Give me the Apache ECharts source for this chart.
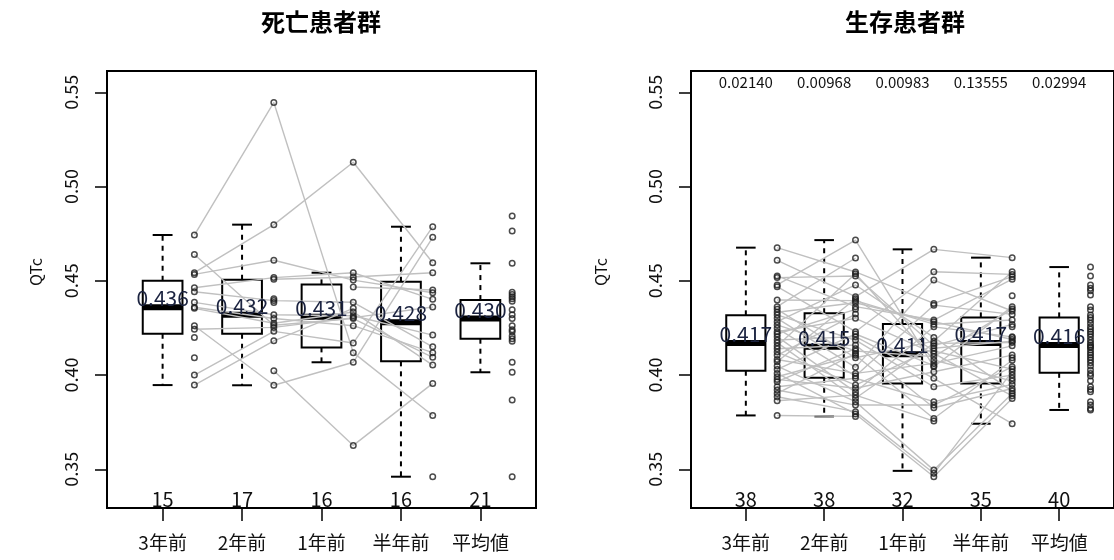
<!DOCTYPE html>
<html>
<head>
<meta charset="utf-8">
<script src="https://cdn.jsdelivr.net/npm/echarts@6/dist/echarts.min.js"></script>
<style>
  html, body { margin: 0; padding: 0; background: #fff; }
  #chart { width: 1114px; height: 560px; }
</style>
</head>
<body>
<div id="chart"></div>
<script>
// ---- time points ----
const categories = ['3年前', '2年前', '1年前', '半年前', '平均値'];
const yTicks = [0.35, 0.40, 0.45, 0.50, 0.55];

// ---- 死亡患者群: QTc per patient at each time point (null = not measured) ----
const deadY3   = [0.4743, 0.4640, 0.4543, 0.4534, 0.4463, 0.4442, 0.4386, 0.4360, 0.4354, 0.4262, 0.4243, 0.4200, 0.4092, 0.4000, 0.3947, null, null, null, null, null, null];
const deadY2   = [0.5446, 0.4264, 0.4798, 0.4609, 0.4517, 0.4395, 0.4320, 0.4300, 0.4275, 0.3946, 0.4253, null, null, 0.4232, 0.4182, 0.4508, 0.4023, 0.4405, 0.4385, null, null];
const deadY1   = [0.4119, 0.4300, 0.5129, 0.4504, 0.4543, 0.4386, 0.4315, 0.4262, 0.4335, 0.4068, 0.4305, 0.4467, null, 0.4170, 0.4354, 0.4520, 0.3627, null, null, null, null];
const deadHalf = [0.3786, 0.4094, 0.4596, 0.4437, 0.4402, 0.4150, 0.4212, 0.4119, 0.4053, 0.4731, 0.4361, 0.4451, 0.3461, 0.4787, null, 0.4543, 0.3956, null, null, null, null];
const deadMean = [0.4844, 0.4764, 0.4593, 0.4440, 0.4428, 0.4415, 0.4405, 0.4392, 0.4346, 0.4320, 0.4300, 0.4262, 0.4240, 0.4230, 0.4207, 0.4193, 0.4179, 0.4068, 0.4015, 0.3868, 0.3461];

// box statistics (lower whisker, Q1, median, Q3, upper whisker)
const deadLow    = [0.3947, 0.3946, 0.4068, 0.3461, 0.4015];
const deadQ1     = [0.4219, 0.4219, 0.4147, 0.4073, 0.4193];
const deadMedian = [0.436, 0.432, 0.431, 0.428, 0.430];
const deadQ3     = [0.4501, 0.4506, 0.4481, 0.4495, 0.4398];
const deadHigh   = [0.4743, 0.4798, 0.4543, 0.4787, 0.4593];
const deadCounts = [15, 17, 16, 16, 21];

// ---- 生存患者群 ----
const aliveY3   = [0.4676, 0.4609, 0.4526, 0.4517, 0.4478, 0.4469, 0.4398, 0.4363, 0.4349, 0.4333, 0.4319, 0.4301, 0.4283, 0.4266, 0.4248, 0.4230, 0.4218, 0.4204, 0.4186, 0.4172, 0.4154, 0.4140, 0.4122, 0.4105, 0.4083, 0.4071, 0.4048, 0.4030, 0.4009, 0.3991, 0.3977, 0.3965, 0.3938, 0.3921, 0.3903, 0.3885, 0.3864, 0.3786, null, null];
const aliveY2   = [0.4547, 0.4416, 0.4363, 0.4526, 0.4716, 0.4230, 0.4395, 0.4621, 0.4092, 0.4384, 0.4185, 0.4041, 0.4478, 0.4128, 0.3995, 0.4301, 0.4349, 0.3910, 0.4204, 0.3877, 0.4538, 0.4160, 0.3947, 0.4324, 0.4009, 0.4405, 0.3859, 0.4218, 0.3794, 0.4105, 0.3930, 0.4140, 0.3983, 0.3841, 0.4115, 0.3806, 0.3894, 0.3781, null, null];
const aliveY1   = [0.4380, 0.4667, 0.4292, 0.4156, 0.4044, 0.4548, 0.4270, null, 0.4180, 0.4283, 0.3938, 0.4504, 0.4200, 0.4098, 0.4371, 0.4115, null, 0.4256, 0.3983, 0.4168, 0.4080, 0.3827, 0.4142, null, 0.4062, 0.4128, 0.3496, 0.4050, 0.3461, 0.3770, 0.4018, null, 0.3859, 0.3841, null, 0.3479, 0.3756, null, null, null];
const aliveHalf = [0.4522, 0.4623, 0.4509, 0.4269, 0.4363, 0.4534, 0.4292, 0.4421, 0.4548, 0.4189, 0.4000, 0.4340, 0.3915, 0.4350, 0.4322, 0.3890, 0.4256, 0.4203, 0.3742, 0.4173, 0.3968, 0.3929, 0.4180, 0.4092, 0.4155, 0.4032, 0.3903, null, 0.3876, 0.4079, 0.4106, 0.4200, 0.3950, 0.4044, 0.3983, 0.4018, null, null, null, null];
const aliveMean = [0.4573, 0.4526, 0.4478, 0.4460, 0.4448, 0.4425, 0.4363, 0.4345, 0.4319, 0.4305, 0.4292, 0.4275, 0.4257, 0.4243, 0.4230, 0.4218, 0.4204, 0.4186, 0.4172, 0.4160, 0.4151, 0.4147, 0.4133, 0.4119, 0.4107, 0.4093, 0.4080, 0.4066, 0.4048, 0.4027, 0.4009, 0.3995, 0.3970, 0.3938, 0.3924, 0.3912, 0.3859, 0.3841, 0.3823, 0.3815];

const aliveLow    = [0.3786, 0.3781, 0.3492, 0.3742, 0.3815];
const aliveQ1     = [0.4023, 0.3986, 0.3956, 0.3956, 0.4012];
const aliveMedian = [0.417, 0.415, 0.411, 0.417, 0.416];
const aliveQ3     = [0.4317, 0.4328, 0.4271, 0.4306, 0.4306];
const aliveHigh   = [0.4676, 0.4716, 0.4667, 0.4623, 0.4573];
const aliveCounts = [38, 38, 32, 35, 40];
const alivePValues = ['0.02140', '0.00968', '0.00983', '0.13555', '0.02994'];

// ---- layout / style constants ----
const FONT = '"Noto Sans CJK JP", "Noto Sans", sans-serif';
const Y_MIN = 0.3295, Y_MAX = 0.5613;
const X_MIN = 0.3, X_MAX = 5.7;
const PT_OFFSET = 0.4;     // point strip sits to the right of each box
const BOX_HALF = 0.25;
const CAP_HALF = 0.125;
const LINE_GREY = '#c0c0c0';

function renderBox(params, api) {
  const x = api.value(0);
  const lo = api.value(1), q1 = api.value(2), md = api.value(3), q3 = api.value(4), hi = api.value(5);
  const c = (xx, yy) => api.coord([xx, yy]);
  const tl = c(x - BOX_HALF, q3), br = c(x + BOX_HALF, q1);
  const mid = c(x, md), top = c(x, hi), bot = c(x, lo);
  const capL = c(x - CAP_HALF, hi)[0], capR = c(x + CAP_HALF, hi)[0];
  const solid = { stroke: '#000', lineWidth: 2, fill: null };
  const dashed = { stroke: '#000', lineWidth: 2, lineDash: [5, 5], fill: null };
  return {
    type: 'group',
    children: [
      { type: 'line', shape: { x1: mid[0], y1: tl[1], x2: mid[0], y2: top[1] }, style: dashed },
      { type: 'line', shape: { x1: mid[0], y1: br[1], x2: mid[0], y2: bot[1] }, style: dashed },
      { type: 'line', shape: { x1: capL, y1: top[1], x2: capR, y2: top[1] }, style: solid },
      { type: 'line', shape: { x1: capL, y1: bot[1], x2: capR, y2: bot[1] }, style: solid },
      { type: 'rect', shape: { x: tl[0], y: tl[1], width: br[0] - tl[0], height: br[1] - tl[1] }, style: solid },
      { type: 'line', shape: { x1: tl[0], y1: mid[1], x2: br[0], y2: mid[1] }, style: { stroke: '#000', lineWidth: 6 } }
    ]
  };
}

function panelSeries(g, timeCols, meanCol, stats, counts, pLabels) {
  const out = [];
  out.push({
    type: 'custom', xAxisIndex: g, yAxisIndex: g, z: 2, silent: true, renderItem: renderBox,
    data: categories.map((_, i) => [i + 1, stats.low[i], stats.q1[i], stats.med[i], stats.q3[i], stats.high[i]])
  });
  const nPatients = timeCols[0].length;
  for (let p = 0; p < nPatients; p++) {
    out.push({
      type: 'line', xAxisIndex: g, yAxisIndex: g, z: 3, silent: true, symbol: 'none',
      connectNulls: false, clip: false,
      lineStyle: { color: LINE_GREY, width: 1.4 },
      data: timeCols.map((col, i) => [i + 1 + PT_OFFSET, col[p] == null ? '-' : col[p]])
    });
  }
  const pts = [];
  [...timeCols, meanCol].forEach((col, i) => col.forEach(v => { if (v != null) pts.push([i + 1 + PT_OFFSET, v]); }));
  out.push({
    type: 'scatter', xAxisIndex: g, yAxisIndex: g, z: 4, silent: true,
    symbol: 'circle', symbolSize: 5.5,
    itemStyle: { color: 'rgba(0,0,0,0)', borderColor: '#1e1e1e', borderWidth: 1.5 },
    data: pts
  });
  out.push({
    type: 'custom', xAxisIndex: g, yAxisIndex: g, z: 6, silent: true,
    data: categories.map((_, i) => [i + 1, stats.med[i]]),
    renderItem: (params, api) => {
      const i = params.dataIndex;
      const x = api.value(0), md = api.value(1);
      const m = api.coord([x, md]);
      const b = api.coord([x, Y_MIN]);
      const t = api.coord([x, Y_MAX]);
      const kids = [
        { type: 'text', x: m[0], y: m[1] - 9,
          style: { text: md.toFixed(3), align: 'center', verticalAlign: 'middle', font: '21px ' + FONT, fill: '#1b2340' } },
        { type: 'text', x: b[0], y: b[1] - 9,
          style: { text: String(counts[i]), align: 'center', verticalAlign: 'middle', font: '20px ' + FONT, fill: '#111' } }
      ];
      if (pLabels) {
        kids.push({ type: 'text', x: t[0], y: t[1] + 11,
          style: { text: pLabels[i], align: 'center', verticalAlign: 'middle', font: '15px ' + FONT, fill: '#111' } });
      }
      return { type: 'group', children: kids };
    }
  });
  return out;
}

function xAxisFor(g) {
  return {
    gridIndex: g, type: 'value', min: X_MIN, max: X_MAX,
    axisLine: { show: false }, splitLine: { show: false },
    axisTick: { show: true, customValues: [1, 2, 3, 4, 5], length: 13, lineStyle: { color: '#000', width: 1.5 } },
    axisLabel: { customValues: [1, 2, 3, 4, 5], formatter: v => categories[Math.round(v) - 1],
      margin: 25, fontSize: 19, color: '#111', fontFamily: FONT }
  };
}
function yAxisFor(g) {
  return {
    gridIndex: g, type: 'value', min: Y_MIN, max: Y_MAX,
    axisLine: { show: false }, splitLine: { show: false },
    axisTick: { show: true, customValues: yTicks, length: 12, lineStyle: { color: '#000', width: 1.5 } },
    axisLabel: { customValues: yTicks, formatter: v => v.toFixed(2), rotate: 90,
      margin: 27, fontSize: 18, color: '#111', fontFamily: FONT }
  };
}

const gridStyle = { show: true, borderColor: '#000', borderWidth: 2, backgroundColor: 'transparent' };

const option = {
  animation: false,
  backgroundColor: '#fff',
  grid: [
    Object.assign({ left: 107, top: 71, width: 429, height: 437 }, gridStyle),
    Object.assign({ left: 691, top: 71, width: 429, height: 437 }, gridStyle)
  ],
  xAxis: [xAxisFor(0), xAxisFor(1)],
  yAxis: [yAxisFor(0), yAxisFor(1)],
  graphic: [
    { type: 'text', x: 321, y: 22, style: { text: '死亡患者群', align: 'center', verticalAlign: 'middle', font: 'bold 24px ' + FONT, fill: '#000' } },
    { type: 'text', x: 905, y: 22, style: { text: '生存患者群', align: 'center', verticalAlign: 'middle', font: 'bold 24px ' + FONT, fill: '#000' } },
    { type: 'text', x: 36, y: 272, rotation: Math.PI / 2, style: { text: 'QTc', align: 'center', verticalAlign: 'middle', font: '16px ' + FONT, fill: '#111' } },
    { type: 'text', x: 601, y: 272, rotation: Math.PI / 2, style: { text: 'QTc', align: 'center', verticalAlign: 'middle', font: '16px ' + FONT, fill: '#111' } }
  ],
  series: [
    ...panelSeries(0, [deadY3, deadY2, deadY1, deadHalf], deadMean,
      { low: deadLow, q1: deadQ1, med: deadMedian, q3: deadQ3, high: deadHigh }, deadCounts, null),
    ...panelSeries(1, [aliveY3, aliveY2, aliveY1, aliveHalf], aliveMean,
      { low: aliveLow, q1: aliveQ1, med: aliveMedian, q3: aliveQ3, high: aliveHigh }, aliveCounts, alivePValues)
  ]
};

const chart = echarts.init(document.getElementById('chart'), null, { renderer: 'canvas' });
chart.setOption(option);
</script>
</body>
</html>
